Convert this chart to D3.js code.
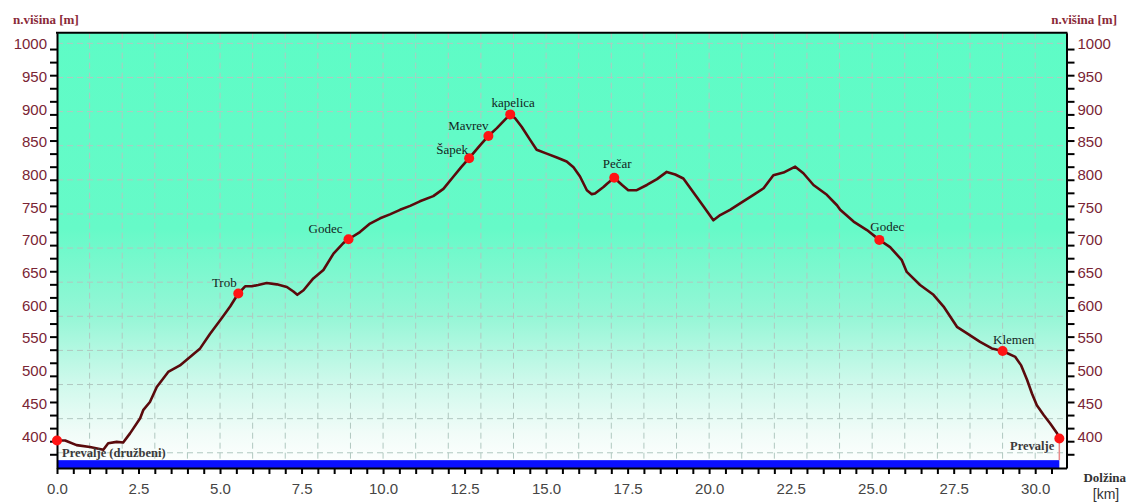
<!DOCTYPE html>
<html>
<head>
<meta charset="utf-8">
<script src="https://cdn.jsdelivr.net/npm/d3@7"></script>
<style>
  body { margin: 0; background: #fff; }
  svg { display: block; }
</style>
</head>
<body>
<div id="chart"></div>
<script>
// profile of the track: distance [km] and height [m]
var profileKm = [0, 0.25, 0.60, 1.01, 1.42, 1.57, 1.83, 2.03, 2.24, 2.55, 2.65, 2.85, 3.06, 3.41, 3.77,
    4.08, 4.39, 4.69, 5.05, 5.31, 5.56, 5.77, 5.97, 6.17, 6.43, 6.74, 7.05, 7.25, 7.37, 7.56, 7.86,
    8.17, 8.48, 8.78, 8.94, 9.29, 9.60, 9.91, 10.21, 10.52, 10.83, 11.13, 11.54, 11.85, 12.16, 12.39,
    12.64, 12.98, 13.23, 13.49, 13.74, 13.90, 14.05, 14.25, 14.51, 14.71, 15.02, 15.33, 15.63, 15.84,
    16.04, 16.25, 16.40, 16.50, 16.76, 16.87, 17.09, 17.22, 17.33, 17.52, 17.78, 18.09, 18.40, 18.70,
    18.96, 19.21, 19.47, 19.83, 20.13, 20.34, 20.64, 20.95, 21.36, 21.67, 21.97, 22.28, 22.64, 22.89,
    23.20, 23.61, 23.92, 24.02, 24.43, 24.84, 25.22, 25.55, 25.91, 26.06, 26.47, 26.88, 27.19, 27.60,
    27.91, 28.31, 28.67, 29.00, 29.39, 29.57, 29.75, 29.90, 30.05, 30.26, 30.46, 30.67, 30.74];
var profileElev = [401, 401, 394, 391, 387, 397, 399, 398, 412, 435, 448, 460, 483, 506, 516,
    529, 542, 564, 588, 606, 626, 637, 637, 639, 642, 640, 636, 629, 624, 631, 649,
    662, 687, 703, 709, 720, 733, 741, 747, 754, 760, 767, 775, 786, 805, 819,
    833, 853, 867, 879, 892, 900, 894, 881, 861, 846, 840, 834, 828, 819,
    805, 784, 778, 779, 789, 794, 803, 797, 792, 784, 784, 792, 801, 812,
    808, 802, 784, 759, 738, 746, 754, 764, 777, 787, 807, 811, 820, 810,
    792, 777, 761, 754, 736, 723, 708, 697, 677, 659, 639, 624, 606, 575,
    565, 552, 542, 538, 529, 516, 494, 473, 455, 440, 427, 412, 404];

// named points on the track
var pointNames = ["Prevalje (družbeni)", "Trob", "Godec", "Šapek", "Mavrev", "kapelica", "Pečar", "Godec", "Klemen", "Prevalje"];
var pointKm = [0, 5.56, 8.94, 12.64, 13.23, 13.90, 17.09, 25.22, 29.00, 30.74];
var pointElev = [401, 626, 709, 833, 867, 900, 803, 708, 538, 404];

var xTickLabels = [0, 2.5, 5, 7.5, 10, 12.5, 15, 17.5, 20, 22.5, 25, 27.5, 30];
var yTickLabels = [400, 450, 500, 550, 600, 650, 700, 750, 800, 850, 900, 950, 1000];

// label placement relative to each dot (layout only)
var labelDx = [5, -14, -23, -17, -20, 3, 3, 8, 11, -5];
var labelDy = [12, -11, -11, -9, -11, -12, -14, -13, -12, 7];
var labelBold = [true, false, false, false, false, false, false, false, false, true];

var width = 1127;
var height = 504;
var margin = { left: 57, right: 1066.5, top: 32.7, bottom: 468 };

var svg = d3.select("#chart").append("svg")
    .attr("width", width)
    .attr("height", height);

var x = d3.scaleLinear().domain([0, 30.96]).range([margin.left, margin.right]);
var y = d3.scaleLinear().domain([359, 1025]).range([margin.bottom, margin.top]);

// background gradient
var defs = svg.append("defs");
var grad = defs.append("linearGradient")
    .attr("id", "bg")
    .attr("x1", 0).attr("y1", 0).attr("x2", 0).attr("y2", 1);
[[0, "#5efcc6"], [0.45, "#66fac8"], [0.65, "#95f6d6"], [0.8, "#cdf9eb"], [0.92, "#f1fcf8"], [1, "#ffffff"]]
    .forEach(function (s) {
        grad.append("stop").attr("offset", s[0]).attr("stop-color", s[1]);
    });

svg.append("rect")
    .attr("x", margin.left)
    .attr("y", margin.top)
    .attr("width", margin.right - margin.left)
    .attr("height", margin.bottom - margin.top)
    .attr("fill", "url(#bg)");

// grid
var gridX = d3.range(1, 31);
var gridY = d3.range(13).map(function (i) { return 1008.7 - i * 52.2; });

svg.append("g").selectAll("line")
    .data(gridX)
    .enter().append("line")
    .attr("x1", function (d) { return x(d); })
    .attr("x2", function (d) { return x(d); })
    .attr("y1", margin.top)
    .attr("y2", margin.bottom)
    .attr("stroke", "#b0c8c0")
    .attr("stroke-width", 1)
    .attr("stroke-dasharray", "6,4");

svg.append("g").selectAll("line")
    .data(gridY)
    .enter().append("line")
    .attr("x1", margin.left)
    .attr("x2", margin.right)
    .attr("y1", function (d) { return y(d); })
    .attr("y2", function (d) { return y(d); })
    .attr("stroke", "#b0c8c0")
    .attr("stroke-width", 1)
    .attr("stroke-dasharray", "6,4");

// blue base band
var lastKm = pointKm[pointKm.length - 1];
var lastElev = pointElev[pointElev.length - 1];
svg.append("rect")
    .attr("x", x(0))
    .attr("y", y(371))
    .attr("width", x(lastKm) - x(0))
    .attr("height", y(359) - y(371))
    .attr("fill", "#0a10ff");

svg.append("line")
    .attr("x1", x(lastKm)).attr("x2", x(lastKm))
    .attr("y1", y(lastElev)).attr("y2", y(371))
    .attr("stroke", "#e88a8a")
    .attr("stroke-width", 1.5);

// profile line
var profile = profileKm.map(function (d, i) { return [d, profileElev[i]]; });
var line = d3.line()
    .x(function (d) { return x(d[0]); })
    .y(function (d) { return y(d[1]); });

svg.append("path")
    .datum(profile)
    .attr("d", line)
    .attr("fill", "none")
    .attr("stroke", "#5a0a0c")
    .attr("stroke-width", 2.6)
    .attr("stroke-linejoin", "round");

// frame
svg.append("line")
    .attr("x1", margin.left - 1).attr("x2", margin.right + 1)
    .attr("y1", margin.top).attr("y2", margin.top)
    .attr("stroke", "#000").attr("stroke-width", 2);

// axes: minor ticks every 20 m, labels every 50 m
var yMinor = d3.range(380, 1001, 20);

var leftTicks = svg.append("g")
    .attr("transform", "translate(" + margin.left + ",0)")
    .call(d3.axisLeft(y).tickValues(yMinor).tickSize(7).tickFormat("").tickSizeOuter(0));
var rightTicks = svg.append("g")
    .attr("transform", "translate(" + margin.right + ",0)")
    .call(d3.axisRight(y).tickValues(yMinor).tickSize(8).tickFormat("").tickSizeOuter(0));

var leftLabels = svg.append("g")
    .attr("transform", "translate(" + margin.left + ",0)")
    .call(d3.axisLeft(y).tickValues(yTickLabels).tickSize(0).tickPadding(10).tickFormat(d3.format("d")));
var rightLabels = svg.append("g")
    .attr("transform", "translate(" + margin.right + ",0)")
    .call(d3.axisRight(y).tickValues(yTickLabels).tickSize(0).tickPadding(11).tickFormat(d3.format("d")));

var xMinor = d3.range(0, 30.6, 0.5);
var bottomTicks = svg.append("g")
    .attr("transform", "translate(0," + margin.bottom + ")")
    .call(d3.axisBottom(x).tickValues(xMinor).tickSize(6).tickFormat("").tickSizeOuter(0));
var bottomLabels = svg.append("g")
    .attr("transform", "translate(0," + margin.bottom + ")")
    .call(d3.axisBottom(x).tickValues(xTickLabels).tickSize(0).tickPadding(15).tickFormat(d3.format(".1f")));

[leftTicks, rightTicks, bottomTicks].forEach(function (g) {
    g.select(".domain").attr("stroke", "#000").attr("stroke-width", 2);
    g.selectAll(".tick line").attr("stroke", "#000").attr("stroke-width", 2);
});
[leftLabels, rightLabels, bottomLabels].forEach(function (g) {
    g.select(".domain").remove();
});
[leftLabels, rightLabels].forEach(function (g) {
    g.selectAll("text")
        .attr("y", -5)
        .attr("fill", "#7a2535")
        .style("font-family", "'Liberation Sans', Arial, sans-serif")
        .style("font-size", "15px");
});
bottomLabels.selectAll("text")
    .attr("fill", "#454545")
    .style("font-family", "'Liberation Sans', Arial, sans-serif")
    .style("font-size", "15px");

// axis titles
svg.append("text")
    .attr("x", 13).attr("y", 24)
    .attr("fill", "#8a2a38")
    .style("font-family", "'Liberation Serif', 'Times New Roman', serif")
    .style("font-weight", "bold")
    .style("font-size", "13px")
    .text("n.višina [m]");
svg.append("text")
    .attr("x", 1117).attr("y", 24)
    .attr("text-anchor", "end")
    .attr("fill", "#8a2a38")
    .style("font-family", "'Liberation Serif', 'Times New Roman', serif")
    .style("font-weight", "bold")
    .style("font-size", "13px")
    .text("n.višina [m]");
svg.append("text")
    .attr("x", 1126).attr("y", 482)
    .attr("text-anchor", "end")
    .attr("fill", "#333")
    .style("font-family", "'Liberation Serif', 'Times New Roman', serif")
    .style("font-weight", "bold")
    .style("font-size", "13px")
    .text("Dolžina");
svg.append("text")
    .attr("x", 1106).attr("y", 499)
    .attr("text-anchor", "middle")
    .attr("fill", "#333")
    .style("font-family", "'Liberation Sans', Arial, sans-serif")
    .style("font-size", "14px")
    .text("[km]");

// named points
var points = pointNames.map(function (d, i) {
    return { name: d, km: pointKm[i], elev: pointElev[i], dx: labelDx[i], dy: labelDy[i], bold: labelBold[i] };
});

svg.append("g").selectAll("circle")
    .data(points)
    .enter().append("circle")
    .attr("cx", function (d) { return x(d.km); })
    .attr("cy", function (d) { return y(d.elev); })
    .attr("r", 5)
    .attr("fill", "#ff1414");

svg.append("g").selectAll("text")
    .data(points)
    .enter().append("text")
    .attr("x", function (d) { return x(d.km) + d.dx; })
    .attr("y", function (d) { return y(d.elev) + d.dy; })
    .attr("dy", "0.35em")
    .attr("text-anchor", function (d, i) {
        if (i == 0) return "start";
        if (i == points.length - 1) return "end";
        return "middle";
    })
    .attr("fill", function (d) { return d.bold ? "#3a3a3a" : "#13251d"; })
    .style("font-family", "'Liberation Serif', 'Times New Roman', serif")
    .style("font-weight", function (d) { return d.bold ? "bold" : "normal"; })
    .style("font-size", function (d) { return d.bold ? "12.5px" : "13px"; })
    .text(function (d) { return d.name; });
</script>
</body>
</html>
